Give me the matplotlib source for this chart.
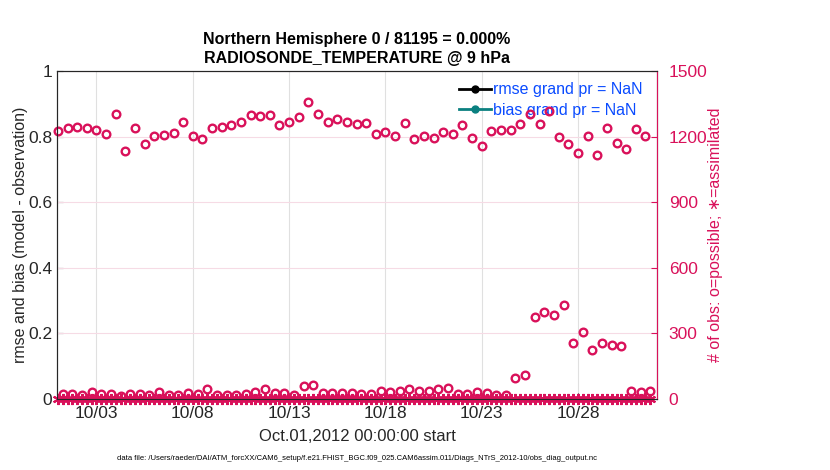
import matplotlib
matplotlib.use("Agg")
import matplotlib.pyplot as plt
import numpy as np

plt.rcParams["font.family"] = ["Liberation Sans", "DejaVu Sans"]

# days since Oct.01,2012 00:00:00
DAYS_00_12 = np.arange(0, 31, 0.5)          # 00Z / 12Z bins
DAYS_06_18 = np.arange(0.25, 31, 0.5)       # 06Z / 18Z bins
DAYS_ALL = np.arange(0, 31, 0.25)

# number of obs possible, 00Z/12Z bins
POSSIBLE_A = [
    1226, 1241, 1245, 1241, 1230, 1212, 1303, 1135, 1241, 1167,
    1205, 1208, 1218, 1268, 1205, 1189, 1241, 1245, 1255, 1267,
    1299, 1294, 1299, 1253, 1267, 1289, 1358, 1303, 1267, 1280,
    1267, 1258, 1262, 1212, 1221, 1205, 1262, 1189, 1205, 1194,
    1221, 1212, 1253, 1194, 1158, 1226, 1230, 1230, 1258, 1305,
    1258, 1317, 1198, 1167, 1126, 1203, 1114, 1240, 1171, 1144,
    1236, 1203,
]
# number of obs possible, 06Z/18Z bins
POSSIBLE_B = [
    24, 24, 20, 30, 24, 24, 15, 24, 24, 20,
    30, 20, 20, 26, 24, 48, 20, 20, 20, 24,
    33, 44, 29, 29, 20, 58, 62, 29, 29, 29,
    26, 24, 24, 36, 33, 36, 44, 36, 36, 44,
    52, 24, 24, 33, 29, 20, 20, 94, 112, 376,
    397, 385, 430, 258, 308, 222, 255, 245, 243, 36,
    33, 36,
]
ASSIMILATED = np.zeros(len(DAYS_ALL))

TICK_DAYS = [2, 7, 12, 17, 22, 27]
TICK_LABELS = ["10/03", "10/08", "10/13", "10/18", "10/23", "10/28"]
LEFT_TICKS = [0, 0.2, 0.4, 0.6, 0.8, 1.0]
LEFT_LABELS = ["0", "0.2", "0.4", "0.6", "0.8", "1"]
RIGHT_TICKS = [0, 300, 600, 900, 1200, 1500]

CRIMSON = "#d9115a"
LEGEND_BLUE = "#0a4bff"
TEAL = "#0b8080"
INK = "#262626"

fig = plt.figure(figsize=(8.3, 4.7), dpi=100)
ax = fig.add_axes([57 / 830, 71 / 470, 600 / 830, 328 / 470])
ax2 = ax.twinx()

# rmse / bias are all NaN -> only legend entries
nan_days = np.full(len(DAYS_00_12), np.nan)
ax.plot(DAYS_00_12, nan_days, "-", marker=".", color="black", lw=2, ms=10,
        label="rmse grand pr = NaN")
ax.plot(DAYS_00_12, nan_days, "-", marker=".", color=TEAL, lw=2, ms=10,
        label="bias grand pr = NaN")

ax.set_xlim(-0.05, 31.1)
ax.set_ylim(0, 1)
ax.set_xticks(TICK_DAYS)
ax.set_xticklabels(TICK_LABELS)
ax.set_yticks(LEFT_TICKS)
ax.set_yticklabels(LEFT_LABELS)
ax.tick_params(direction="in", labelsize=12.5, length=4, colors=INK)
ax.tick_params(axis="x", pad=5)
ax.grid(axis="x", color="#e0e0e0", lw=0.8)
ax.set_axisbelow(True)
ax.set_ylabel("rmse and bias (model - observation)", fontsize=11.5, color=INK, labelpad=-0.3)
ax.set_xlabel("Oct.01,2012 00:00:00 start", fontsize=12, color=INK, labelpad=6)

ax2.plot(DAYS_00_12, POSSIBLE_A, "o", mfc="none", mec=CRIMSON, mew=1.7, ms=5.5, clip_on=False)
ax2.plot(DAYS_06_18, POSSIBLE_B, "o", mfc="none", mec=CRIMSON, mew=1.7, ms=5.5, clip_on=False)
ax2.plot(DAYS_ALL, ASSIMILATED, ls="none", marker=(6, 2, 0), color=CRIMSON, mew=1.5, ms=8,
         clip_on=False)
ax2.set_ylim(0, 1500)
ax2.set_yticks(RIGHT_TICKS)
ax2.tick_params(direction="in", labelsize=12.5, length=4, colors=CRIMSON, pad=8.5)
ax2.grid(axis="y", color="#f6dbe5", lw=0.8)
ax2.spines["right"].set_color(CRIMSON)
ax2.set_ylabel("# of obs: o=possible; \u2217=assimilated", fontsize=11.5, color=CRIMSON,
               labelpad=0.5)

for a in (ax, ax2):
    a.spines["left"].set_color(INK)
    a.spines["top"].set_color(INK)
    a.spines["bottom"].set_color(INK)

leg = ax.legend(loc="upper right", bbox_to_anchor=(1.0, 1.01), frameon=False,
                fontsize=11.5, handlelength=2.0, handletextpad=0.15, labelspacing=0.35)
for t in leg.get_texts():
    t.set_color(LEGEND_BLUE)

ax.set_title("Northern Hemisphere 0 / 81195 = 0.000%\nRADIOSONDE_TEMPERATURE @ 9 hPa",
             fontsize=11.5, fontweight="bold", linespacing=1.3, pad=6)

fig.text(357 / 830, 1 - 459 / 470,
         "data file: /Users/raeder/DAI/ATM_forcXX/CAM6_setup/f.e21.FHIST_BGC.f09_025.CAM6assim.011/"
         "Diags_NTrS_2012-10/obs_diag_output.nc",
         ha="center", va="center", fontsize=5.5)

fig.savefig("out.png", dpi=100)
